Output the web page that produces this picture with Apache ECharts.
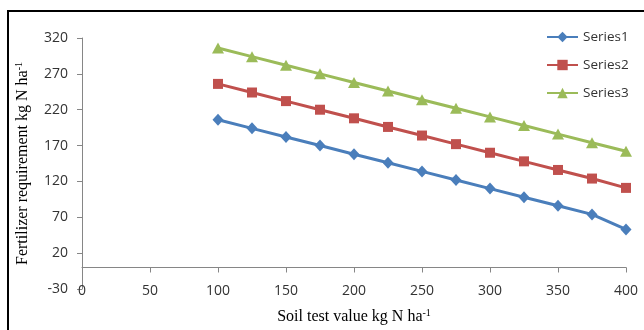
<!DOCTYPE html>
<html>
<head>
<meta charset="utf-8">
<script src="https://cdn.jsdelivr.net/npm/echarts@6/dist/echarts.min.js"></script>
<style>
html,body{margin:0;padding:0;background:#fff;}
#chart{width:644px;height:330px;}
</style>
</head>
<body>
<div id="chart"></div>
<script>
var xValues = [100,125,150,175,200,225,250,275,300,325,350,375,400];
var series1 = [206,194,182,170,158,146,134,122,110,98,86,74,53];
var series2 = [256,244,232,220,208,196,184,172,160,148,136,124,111];
var series3 = [306,294,282,270,258,246,234,222,210,198,186,174,162];
var seriesNames = ['Series1','Series2','Series3'];
var xTitle = 'Soil test value kg N ha';
var yTitle = 'Fertilizer requirement kg N ha';
var supText = '-1';

function pairs(vals){ return xValues.map(function(x,i){ return [x, vals[i]]; }); }

var chart = echarts.init(document.getElementById('chart'));
var axisColor = '#868686';
var labelFont = {fontFamily:'Open Sans', fontSize:14, color:'#333333'};
var titleRich = {
  a:{fontFamily:'Liberation Serif', fontSize:16, color:'#000'},
  s:{fontFamily:'Liberation Serif', fontSize:10, color:'#000', verticalAlign:'top', padding:[0,0,8,0]}
};
chart.setOption({
  animation:false,
  backgroundColor:'#fff',
  grid:{left:82, right:18, top:38, bottom:40},
  graphic:[{type:'rect', shape:{x:8,y:11,width:700,height:400}, style:{fill:'none', stroke:'#000', lineWidth:2}, silent:true}],
  legend:{
    orient:'vertical', left:546, top:30, padding:0, itemWidth:31, itemHeight:13, itemGap:14,
    textStyle:{fontFamily:'Open Sans', fontSize:13.5, color:'#333333', lineHeight:14},
    data:seriesNames
  },
  xAxis:[{
    type:'value', min:0, max:400, interval:50, position:'bottom',
    axisLine:{show:false, onZero:false}, axisTick:{show:false}, splitLine:{show:false},
    axisLabel:Object.assign({margin:-5}, labelFont),
    name:'{a|'+xTitle+'}{s|'+supText+'}', nameLocation:'middle', nameGap:19,
    nameTextStyle:{rich:titleRich}
  },{
    type:'value', min:0, max:400, interval:50, position:'bottom',
    axisLine:{show:true, onZero:true, lineStyle:{color:axisColor, width:1}},
    axisTick:{show:true, length:5, lineStyle:{color:axisColor}},
    axisLabel:{show:false}, splitLine:{show:false}
  }],
  yAxis:{
    type:'value', min:-30, max:320, interval:50,
    axisLine:{show:true, onZero:false, lineStyle:{color:axisColor, width:1}},
    axisTick:{show:true, length:5, lineStyle:{color:axisColor}},
    splitLine:{show:false},
    axisLabel:Object.assign({margin:14}, labelFont),
    name:'{a|'+yTitle+'}{s|'+supText+'}', nameLocation:'middle', nameGap:50, nameRotate:90,
    nameTextStyle:{rich:titleRich}
  },
  series:[
    {name:seriesNames[0], type:'line', xAxisIndex:0, data:pairs(series1), symbol:'diamond', symbolSize:[11,12],
     lineStyle:{color:'#4A7EBB', width:3}, itemStyle:{color:'#4A7EBB'}},
    {name:seriesNames[1], type:'line', xAxisIndex:0, data:pairs(series2), symbol:'rect', symbolSize:10,
     lineStyle:{color:'#C0504D', width:3}, itemStyle:{color:'#C0504D'}},
    {name:seriesNames[2], type:'line', xAxisIndex:0, data:pairs(series3), symbol:'triangle', symbolSize:[12,11],
     lineStyle:{color:'#9BBB59', width:3}, itemStyle:{color:'#9BBB59'}}
  ]
});
</script>
</body>
</html>
